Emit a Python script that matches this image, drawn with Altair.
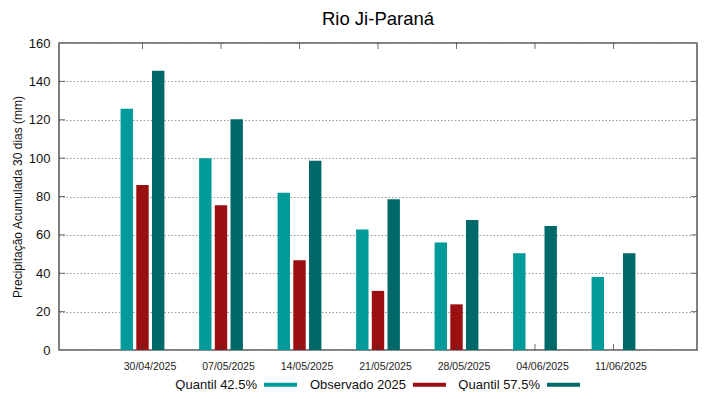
import altair as alt
import pandas as pd

title_text = "Rio Ji-Paraná"
y_title = "Precipitação Acumulada 30 dias (mm)"
dates = ["30/04/2025", "07/05/2025", "14/05/2025", "21/05/2025",
         "28/05/2025", "04/06/2025", "11/06/2025"]
series = ["Quantil 42.5%", "Observado 2025", "Quantil 57.5%"]
q425 = [125.7, 100.0, 82.0, 62.8, 56.0, 50.4, 38.0]
obs = [86.0, 75.4, 46.8, 30.8, 23.8, None, None]
q575 = [145.6, 120.2, 98.6, 78.6, 67.8, 64.6, 50.4]
colors = ["#009a9a", "#9a0f0f", "#006868"]
y_ticks = [0, 20, 40, 60, 80, 100, 120, 140, 160]

W, H = 638, 307
FONT = "Liberation Sans"

rows = []
for i, d in enumerate(dates):
    for s, vals in zip(series, [q425, obs, q575]):
        if vals[i] is not None:
            rows.append({"idx": i, "date": d, "serie": s, "valor": vals[i]})
df = pd.DataFrame(rows)

label_expr = "[" + ",".join("'" + d + "'" for d in dates) + "][datum.value]"
series_expr = "[" + ",".join("'" + s + "'" for s in series) + "]"
# gnuplot-style key: fixed-width columns with right-justified labels
legend_label_expr = ("indexof(" + series_expr + ", datum.value) == 2 ? "
                     "'\u00a0\u00a0\u00a0\u00a0' + datum.label : datum.label")

xscale = alt.Scale(domain=[-1, len(dates)], nice=False, zero=False)
yscale = alt.Scale(domain=[0, 160], nice=False)

xaxis = alt.Axis(values=list(range(len(dates))), labelExpr=label_expr,
                 title=None, grid=False, ticks=False, domain=False,
                 labelFontSize=10.5, labelPadding=11, labelColor="#222",
                 labelOffset=7, labelFont=FONT, labelOverlap=False)
yaxis = alt.Axis(values=y_ticks, title=y_title, grid=True,
                 gridDash=[1.5, 2], gridColor="#999", gridWidth=1,
                 ticks=False, domain=False, labelFontSize=13,
                 labelPadding=9, labelColor="#111", labelFont=FONT,
                 labelOverlap=False,
                 titleFont=FONT, titleFontSize=12, titleFontWeight="normal",
                 titleColor="#111", titlePadding=4)

bars = alt.Chart(df).transform_calculate(
    xpos=f"datum.idx + (indexof({series_expr}, datum.serie) - 1) * 0.2"
).mark_bar(size=12.4).encode(
    x=alt.X("xpos:Q", scale=xscale, axis=xaxis),
    y=alt.Y("valor:Q", scale=yscale, axis=yaxis),
    color=alt.Color("serie:N", scale=alt.Scale(domain=series, range=colors),
                    legend=alt.Legend(
                        title=None, orient="none", direction="horizontal",
                        legendX=205, legendY=325,
                        symbolType="M-1,-0.12H1V0.12H-1Z", symbolSize=1089,
                        symbolStrokeWidth=0, symbolOpacity=1,
                        labelAlign="right", labelOffset={"expr": "-40"},
                        labelExpr=legend_label_expr,
                        labelFontSize=13, labelFont=FONT, labelColor="#111",
                        columnPadding=12, symbolOffset=0)),
)

xt = pd.DataFrame({"idx": list(range(len(dates)))})
ticks_bottom = alt.Chart(xt).mark_tick(orient="vertical", size=6, thickness=1, color="#333").encode(
    x=alt.X("idx:Q", scale=xscale, axis=xaxis), y=alt.value(H - 3))
ticks_top = alt.Chart(xt).mark_tick(orient="vertical", size=6, thickness=1, color="#333").encode(
    x=alt.X("idx:Q", scale=xscale, axis=xaxis), y=alt.value(3))

yt = pd.DataFrame({"v": y_ticks[1:-1]})
ticks_right = alt.Chart(yt).mark_tick(orient="horizontal", size=6, thickness=1, color="#333").encode(
    y=alt.Y("v:Q", scale=yscale, axis=yaxis), x=alt.value(W - 3))
ticks_left = alt.Chart(yt).mark_tick(orient="horizontal", size=6, thickness=1, color="#333").encode(
    y=alt.Y("v:Q", scale=yscale, axis=yaxis), x=alt.value(3))

chart = alt.layer(bars, ticks_bottom, ticks_top, ticks_right, ticks_left).properties(
    width=W, height=H,
    title=alt.TitleParams(title_text, font=FONT, fontSize=18.5, fontWeight="normal",
                          color="#000", anchor="middle", frame="group", offset=9),
    autosize=alt.AutoSizeParams(type="none"),
    padding={"left": 51, "top": 35, "right": 10, "bottom": 41},
    background="white",
).configure_view(stroke="#555", strokeWidth=1.5)

chart.save("out.html", embed_options={"renderer": "svg", "actions": False})
